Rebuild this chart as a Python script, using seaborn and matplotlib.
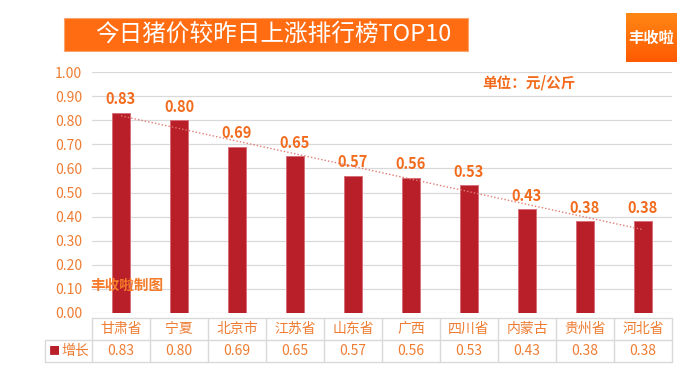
import numpy as np
import pandas as pd
import matplotlib
matplotlib.use("Agg")
import matplotlib.pyplot as plt
from matplotlib.patches import Rectangle
from matplotlib.colors import LinearSegmentedColormap
import seaborn as sns

# ---- data ----
categories = ["甘肃省", "宁夏", "北京市", "江苏省", "山东省", "广西", "四川省", "内蒙古", "贵州省", "河北省"]
values = [0.83, 0.80, 0.69, 0.65, 0.57, 0.56, 0.53, 0.43, 0.38, 0.38]
yticks = [0.0, 0.1, 0.2, 0.3, 0.4, 0.5, 0.6, 0.7, 0.8, 0.9, 1.0]
series_name = "增长"
title = "今日猪价较昨日上涨排行榜TOP10"
brand = "丰收啦"
unit_text = "单位：元/公斤"
watermark = "丰收啦制图"

sns.set_theme(style="white")
plt.rcParams["font.family"] = ["Noto Sans CJK SC", "DejaVu Sans"]
plt.rcParams["axes.unicode_minus"] = False

BAR = "#B81F29"
ORANGE = "#EE7D33"
ORANGE_D = "#F26B1D"
GRID = "#D9D9D9"

W, H = 692, 389
fig = plt.figure(figsize=(W / 100, H / 100), dpi=100)
fig.patch.set_facecolor("white")

ax = fig.add_axes([92 / W, 1 - 313 / H, 580 / W, 241 / H])
df = pd.DataFrame({"cat": categories, "val": values})
sns.barplot(data=df, x="cat", y="val", color=BAR, width=0.31, saturation=1,
            edgecolor="#D8707A", linewidth=0.7, ax=ax, zorder=3)
ax.set_xlim(-0.5, len(categories) - 0.5)
ax.set_ylim(0, 1.0)
ax.set_yticks(yticks)
ax.set_yticklabels([f"{t:.2f}" for t in yticks], color=ORANGE, fontsize=10)
ax.tick_params(axis="y", length=0, pad=7)
ax.set_xticks([])
ax.set_xlabel("")
ax.set_ylabel("")
for s in ax.spines.values():
    s.set_visible(False)
ax.grid(axis="y", color=GRID, linewidth=0.9, zorder=0)
ax.set_axisbelow(True)

# data labels
ax.bar_label(ax.containers[0], labels=[f"{v:.2f}" for v in values], padding=4,
             color=ORANGE_D, fontsize=10.5, fontweight="bold")

# linear trendline
xi = np.arange(len(values))
k, b = np.polyfit(xi, values, 1)
ax.plot([xi[0], xi[-1]], [k * xi[0] + b, k * xi[-1] + b], linestyle=(0, (1, 1.5)),
        color="#E07C74", linewidth=1.0, zorder=4)

# ---- data table below ----
tr = ax.get_xaxis_transform()
def py(p):  # pixel y -> axes y
    return (313 - p) / 241
def px(p):  # pixel x -> data x
    return -0.5 + (p - 92) / 58

y_top, y_mid, y_bot = py(317.5), py(340), py(361.5)
x_left, x_lab, x_right = px(45.5), -0.5, len(categories) - 0.5
lk = dict(color=GRID, linewidth=1.0, transform=tr, clip_on=False)
ax.plot([x_lab, x_right], [y_top, y_top], **lk)
ax.plot([x_left, x_right], [y_mid, y_mid], **lk)
ax.plot([x_left, x_right], [y_bot, y_bot], **lk)
ax.plot([x_left, x_left], [y_mid, y_bot], **lk)
for xb in np.arange(-0.5, len(categories), 1.0):
    ax.plot([xb, xb], [y_top, y_bot], **lk)

r1, r2 = (y_top + y_mid) / 2, (y_mid + y_bot) / 2
for i, (c, v) in enumerate(zip(categories, values)):
    ax.text(i, r1, c, transform=tr, ha="center", va="center", color=ORANGE, fontsize=10)
    ax.text(i, r2, f"{v:.2f}", transform=tr, ha="center", va="center", color=ORANGE, fontsize=10)
ax.text(px(54), r2, "■", transform=tr, ha="center", va="center", color=BAR, fontsize=8)
ax.text(px(75.5), r2, series_name, transform=tr, ha="center", va="center", color=ORANGE, fontsize=10)

# ---- title box ----
fig.patches.append(Rectangle((64 / W, 1 - 51 / H), 404 / W, 33 / H, transform=fig.transFigure,
                             facecolor="#FF6C12", edgecolor="#F8A46C", linewidth=0.8, zorder=1))
fig.text(273 / W, 1 - 34 / H, title, ha="center", va="center", color="white",
         fontsize=17, fontweight="medium", zorder=2)

# ---- brand box with gradient ----
bax = fig.add_axes([626 / W, 1 - 62 / H, 51 / W, 49 / H])
grad = np.linspace(0, 1, 100).reshape(-1, 1)
cmap = LinearSegmentedColormap.from_list("g", ["#FF8714", "#FF5A02"])
bax.imshow(grad, aspect="auto", cmap=cmap, extent=[0, 1, 0, 1], origin="upper")
bax.set_axis_off()
bax.text(0.5, 0.5, brand, ha="center", va="center", color="white", fontsize=11,
         fontweight="bold", transform=bax.transAxes)

# unit & watermark
fig.text(482 / W, 1 - 83 / H, unit_text, ha="left", va="center", color=ORANGE_D,
         fontsize=10.5, fontweight="bold")
fig.text(90 / W, 1 - 285 / H, watermark, ha="left", va="center", color="#F47B2A",
         fontsize=10.5, fontweight="bold")

fig.savefig("out.png", dpi=100, facecolor="white")
